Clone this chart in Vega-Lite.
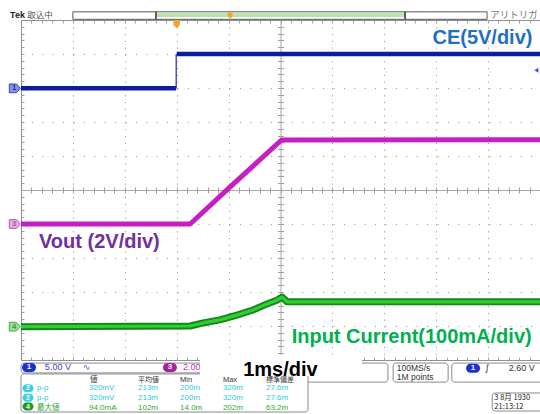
{
"$schema":"https://vega.github.io/schema/vega-lite/v6.json",
"width":519,"height":340,"autosize":"none",
"padding":{"left":21,"top":20,"right":0,"bottom":54},
"background":"white",
"data":{"values":[{}]},
"datasets":{"wave":[
{"ch":"CE","seg":"lo","t":0,"v":2.99},{"ch":"CE","seg":"lo","t":2.99,"v":2.99},
{"ch":"CE","seg":"edge","t":2.99,"v":2.99},{"ch":"CE","seg":"edge","t":2.99,"v":4.0},
{"ch":"CE","seg":"hi","t":3.0,"v":4.0},{"ch":"CE","seg":"hi","t":10,"v":4.0},
{"ch":"Vout","seg":"a","t":0,"v":-1.0},{"ch":"Vout","seg":"a","t":3.26,"v":-1.0},{"ch":"Vout","seg":"a","t":4.03,"v":0.09},{"ch":"Vout","seg":"a","t":5.02,"v":1.47},{"ch":"Vout","seg":"a","t":10,"v":1.48},
{"ch":"Iin","seg":"a","t":0,"v":-4.02},{"ch":"Iin","seg":"a","t":3.26,"v":-4.0},{"ch":"Iin","seg":"a","t":3.51,"v":-3.91},{"ch":"Iin","seg":"a","t":3.83,"v":-3.82},{"ch":"Iin","seg":"a","t":4.16,"v":-3.68},{"ch":"Iin","seg":"a","t":4.47,"v":-3.53},{"ch":"Iin","seg":"a","t":4.74,"v":-3.35},{"ch":"Iin","seg":"a","t":4.93,"v":-3.24},{"ch":"Iin","seg":"a","t":5.03,"v":-3.15},{"ch":"Iin","seg":"a","t":5.13,"v":-3.29},{"ch":"Iin","seg":"a","t":10,"v":-3.29}
]},
"config":{"view":{"stroke":"#8f8f8f","strokeWidth":1},
 "axis":{"grid":false,"ticks":false,"labels":false,"domain":false,"titleColor":"transparent","zindex":0},
 "text":{"font":"Liberation Sans"}},
"resolve":{"axis":{"x":"independent","y":"independent"}},
"layer":[
{"data":{"name":"wave"},"transform":[{"filter":"datum.ch==='CE' && datum.seg!=='edge'"}],
 "mark":{"type":"line","color":"#0b1d9e","strokeWidth":4.5,"strokeCap":"butt"},
 "encoding":{
  "x":{"field":"t","type":"quantitative","scale":{"domain":[0,10],"nice":false,"zero":false},"axis":{"orient":"bottom","values":[1,2,3,4,6,7,8,9],"grid":true,"gridColor":"#8c8c8c","gridDash":[1,5.8],"gridWidth":1,"title":null}},
  "y":{"field":"v","type":"quantitative","scale":{"domain":[-5,5],"nice":false,"zero":false},"axis":{"orient":"left","values":[-4,-3,-2,-1,1,2,3,4],"grid":true,"gridColor":"#8c8c8c","gridDash":[1,9.4],"gridWidth":1,"title":null}},
  "detail":{"field":"seg"}}},
{"data":{"name":"wave"},"transform":[{"filter":"datum.seg==='edge'"}],
 "mark":{"type":"line","color":"#1a2ab0","strokeWidth":1.2},
 "encoding":{
  "x":{"field":"t","type":"quantitative","axis":{"orient":"top","offset":-170,"values":[0.2,0.4,0.6,0.8,1,1.2,1.4,1.6,1.8,2,2.2,2.4,2.6,2.8,3,3.2,3.4,3.6,3.8,4,4.2,4.4,4.6,4.8,5,5.2,5.4,5.6,5.8,6,6.2,6.4,6.6,6.8,7,7.2,7.4,7.6,7.8,8,8.2,8.4,8.6,8.8,9,9.2,9.4,9.6,9.8],"ticks":true,"tickSize":3,"tickColor":"#a0a0a0","domain":true,"domainColor":"#a8a8a8","title":null}},
  "y":{"field":"v","type":"quantitative","axis":{"orient":"left","offset":-259.5,"values":[-4.8,-4.6,-4.4,-4.2,-4,-3.8,-3.6,-3.4,-3.2,-3,-2.8,-2.6,-2.4,-2.2,-2,-1.8,-1.6,-1.4,-1.2,-1,-0.8,-0.6,-0.4,-0.2,0,0.2,0.4,0.6,0.8,1,1.2,1.4,1.6,1.8,2,2.2,2.4,2.6,2.8,3,3.2,3.4,3.6,3.8,4,4.2,4.4,4.6,4.8],"ticks":true,"tickSize":3,"tickColor":"#a0a0a0","domain":true,"domainColor":"#a8a8a8","title":null}}}},
{"data":{"name":"wave"},"transform":[{"filter":"datum.ch==='Vout'"}],
 "mark":{"type":"line","color":"#c41ec4","strokeWidth":5,"strokeJoin":"round"},
 "encoding":{
  "x":{"field":"t","type":"quantitative","axis":{"orient":"bottom","offset":-170,"values":[0.2,0.4,0.6,0.8,1,1.2,1.4,1.6,1.8,2,2.2,2.4,2.6,2.8,3,3.2,3.4,3.6,3.8,4,4.2,4.4,4.6,4.8,5,5.2,5.4,5.6,5.8,6,6.2,6.4,6.6,6.8,7,7.2,7.4,7.6,7.8,8,8.2,8.4,8.6,8.8,9,9.2,9.4,9.6,9.8],"ticks":true,"tickSize":3,"tickColor":"#a0a0a0","title":null}},
  "y":{"field":"v","type":"quantitative","axis":{"orient":"right","offset":-259.5,"values":[-4.8,-4.6,-4.4,-4.2,-4,-3.8,-3.6,-3.4,-3.2,-3,-2.8,-2.6,-2.4,-2.2,-2,-1.8,-1.6,-1.4,-1.2,-1,-0.8,-0.6,-0.4,-0.2,0,0.2,0.4,0.6,0.8,1,1.2,1.4,1.6,1.8,2,2.2,2.4,2.6,2.8,3,3.2,3.4,3.6,3.8,4,4.2,4.4,4.6,4.8],"ticks":true,"tickSize":3,"tickColor":"#a0a0a0","title":null}}}},
{"data":{"name":"wave"},"transform":[{"filter":"datum.ch==='Iin'"}],
 "mark":{"type":"line","color":"#13861c","strokeWidth":7,"strokeJoin":"round"},
 "encoding":{
  "x":{"field":"t","type":"quantitative","axis":{"orient":"bottom","offset":-340,"values":[0.2,0.4,0.6,0.8,1,1.2,1.4,1.6,1.8,2,2.2,2.4,2.6,2.8,3,3.2,3.4,3.6,3.8,4,4.2,4.4,4.6,4.8,5,5.2,5.4,5.6,5.8,6,6.2,6.4,6.6,6.8,7,7.2,7.4,7.6,7.8,8,8.2,8.4,8.6,8.8,9,9.2,9.4,9.6,9.8],"ticks":true,"tickSize":3,"tickColor":"#a0a0a0","title":null}},
  "y":{"field":"v","type":"quantitative","axis":{"orient":"right","offset":-519,"values":[-4.8,-4.6,-4.4,-4.2,-4,-3.8,-3.6,-3.4,-3.2,-3,-2.8,-2.6,-2.4,-2.2,-2,-1.8,-1.6,-1.4,-1.2,-1,-0.8,-0.6,-0.4,-0.2,0,0.2,0.4,0.6,0.8,1,1.2,1.4,1.6,1.8,2,2.2,2.4,2.6,2.8,3,3.2,3.4,3.6,3.8,4,4.2,4.4,4.6,4.8],"ticks":true,"tickSize":3,"tickColor":"#a0a0a0","title":null}}}},
{"data":{"name":"wave"},"transform":[{"filter":"datum.ch==='Iin'"}],
 "mark":{"type":"line","color":"#2fcf2f","strokeWidth":3.2,"strokeJoin":"round"},
 "encoding":{
  "x":{"field":"t","type":"quantitative","axis":{"orient":"top","offset":-340,"values":[0.2,0.4,0.6,0.8,1,1.2,1.4,1.6,1.8,2,2.2,2.4,2.6,2.8,3,3.2,3.4,3.6,3.8,4,4.2,4.4,4.6,4.8,5,5.2,5.4,5.6,5.8,6,6.2,6.4,6.6,6.8,7,7.2,7.4,7.6,7.8,8,8.2,8.4,8.6,8.8,9,9.2,9.4,9.6,9.8],"ticks":true,"tickSize":3,"tickColor":"#a0a0a0","title":null}},
  "y":{"field":"v","type":"quantitative","axis":null}}},

{"mark":{"type":"point","shape":"M-1,-0.8L0.3,-0.8L1,0L0.3,0.8L-1,0.8Z","size":121,"filled":true,"fill":"#8393e3","stroke":"#3447c0","strokeWidth":1,"opacity":1},"encoding":{"x":{"datum":-0.12},"y":{"datum":2.99}}},
{"mark":{"type":"text","text":"1","fontSize":7,"fontWeight":"bold","color":"#1d2a80","baseline":"middle","align":"center"},"encoding":{"x":{"datum":-0.13},"y":{"datum":2.99}}},
{"mark":{"type":"point","shape":"M-1,-0.8L0.3,-0.8L1,0L0.3,0.8L-1,0.8Z","size":121,"filled":true,"fill":"#e9a8e9","stroke":"#b860b8","strokeWidth":1,"opacity":1},"encoding":{"x":{"datum":-0.12},"y":{"datum":-1.0}}},
{"mark":{"type":"text","text":"3","fontSize":7,"fontWeight":"bold","color":"#777","baseline":"middle","align":"center"},"encoding":{"x":{"datum":-0.13},"y":{"datum":-1.0}}},
{"mark":{"type":"point","shape":"M-1,-0.8L0.3,-0.8L1,0L0.3,0.8L-1,0.8Z","size":121,"filled":true,"fill":"#93e093","stroke":"#4cb04c","strokeWidth":1,"opacity":1},"encoding":{"x":{"datum":-0.12},"y":{"datum":-4.02}}},
{"mark":{"type":"text","text":"4","fontSize":7,"fontWeight":"bold","color":"#4a8a4a","baseline":"middle","align":"center"},"encoding":{"x":{"datum":-0.13},"y":{"datum":-4.02}}},
{"mark":{"type":"point","shape":"triangle-left","size":22,"filled":true,"fill":"#2a52e0","opacity":1},"encoding":{"x":{"datum":9.93},"y":{"datum":3.52}}},
{"mark":{"type":"point","shape":"M-0.8,-1L0.8,-1L0.8,0.2L0,1L-0.8,0.2Z","size":70,"filled":true,"fill":"#f3a531","opacity":1},"encoding":{"x":{"datum":3.0},"y":{"datum":4.88}}},

{"mark":{"type":"text","text":"Tek","fontSize":9,"fontWeight":"bold","color":"#222","align":"left","baseline":"middle"},"encoding":{"x":{"datum":-0.21},"y":{"datum":5.15}}},
{"mark":{"type":"text","text":"取込中","font":"Noto Sans CJK JP","fontSize":8.5,"color":"#555","align":"left","baseline":"middle"},"encoding":{"x":{"datum":0.12},"y":{"datum":5.15}}},
{"mark":{"type":"rect","fill":"white","stroke":"#555","strokeWidth":1},"encoding":{"x":{"datum":1.0},"x2":{"datum":8.98},"y":{"datum":5.02},"y2":{"datum":5.24}}},
{"mark":{"type":"rect","fill":"#b6e3a8"},"encoding":{"x":{"datum":2.6},"x2":{"datum":7.4},"y":{"datum":5.09},"y2":{"datum":5.2}}},
{"mark":{"type":"rule","stroke":"#333","strokeWidth":1.5},"encoding":{"x":{"datum":2.6},"y":{"datum":5.02},"y2":{"datum":5.24}}},
{"mark":{"type":"rule","stroke":"#333","strokeWidth":1.5},"encoding":{"x":{"datum":7.4},"y":{"datum":5.02},"y2":{"datum":5.24}}},
{"mark":{"type":"point","shape":"M-0.8,-1L0.8,-1L0.8,0.2L0,1L-0.8,0.2Z","size":40,"filled":true,"fill":"#f3a531","opacity":1},"encoding":{"x":{"datum":4.03},"y":{"datum":5.13}}},
{"mark":{"type":"text","text":"アリトリガ","font":"Noto Sans CJK JP","fontSize":9.5,"color":"#777","align":"left","baseline":"middle"},"encoding":{"x":{"datum":9.04},"y":{"datum":5.15}}},

{"mark":{"type":"rect","fill":"white","stroke":"#8a8a8a","strokeWidth":1,"cornerRadius":3},"encoding":{"x":{"datum":0},"x2":{"datum":4.41},"y":{"datum":-5.09},"y2":{"datum":-5.38}}},
{"mark":{"type":"rect","fill":"white","stroke":"#8a8a8a","strokeWidth":1,"cornerRadius":3},"encoding":{"x":{"datum":4.41},"x2":{"datum":7.07},"y":{"datum":-5.09},"y2":{"datum":-5.65}}},
{"mark":{"type":"rect","fill":"white","stroke":"#8a8a8a","strokeWidth":1,"cornerRadius":3},"encoding":{"x":{"datum":7.17},"x2":{"datum":8.23},"y":{"datum":-5.09},"y2":{"datum":-5.65}}},
{"mark":{"type":"rect","fill":"white","stroke":"#8a8a8a","strokeWidth":1,"cornerRadius":3},"encoding":{"x":{"datum":8.3},"x2":{"datum":10.3},"y":{"datum":-5.09},"y2":{"datum":-5.65}}},
{"mark":{"type":"rect","fill":"white","stroke":"#8a8a8a","strokeWidth":1,"cornerRadius":3},"encoding":{"x":{"datum":0},"x2":{"datum":5.53},"y":{"datum":-5.41},"y2":{"datum":-6.53}}},
{"mark":{"type":"rect","fill":"white","stroke":"#8a8a8a","strokeWidth":1,"cornerRadius":3},"encoding":{"x":{"datum":9.08},"x2":{"datum":10.3},"y":{"datum":-5.97},"y2":{"datum":-6.5}}},

{"mark":{"type":"point","shape":"M-0.36,-0.64L0.36,-0.64A0.64,0.64 0 0 1 0.36,0.64L-0.36,0.64A0.64,0.64 0 0 1 -0.36,-0.64Z","size":196,"filled":true,"fill":"#1b2fd6","opacity":1},"encoding":{"x":{"datum":0.154},"y":{"datum":-5.22}}},
{"mark":{"type":"text","text":"1","fontSize":8,"fontWeight":"bold","color":"white","align":"center","baseline":"middle"},"encoding":{"x":{"datum":0.154},"y":{"datum":-5.22}}},
{"mark":{"type":"text","text":"5.00 V","fontSize":9,"color":"#3a3ad8","align":"left","baseline":"middle"},"encoding":{"x":{"datum":0.46},"y":{"datum":-5.22}}},
{"mark":{"type":"text","text":"∿","font":"DejaVu Sans","fontSize":9,"color":"#5a5ae0","align":"left","baseline":"middle"},"encoding":{"x":{"datum":1.19},"y":{"datum":-5.22}}},
{"mark":{"type":"point","shape":"M-0.36,-0.64L0.36,-0.64A0.64,0.64 0 0 1 0.36,0.64L-0.36,0.64A0.64,0.64 0 0 1 -0.36,-0.64Z","size":196,"filled":true,"fill":"#a8209f","opacity":1},"encoding":{"x":{"datum":2.87},"y":{"datum":-5.22}}},
{"mark":{"type":"text","text":"3","fontSize":8,"fontWeight":"bold","color":"white","align":"center","baseline":"middle"},"encoding":{"x":{"datum":2.87},"y":{"datum":-5.22}}},
{"mark":{"type":"text","text":"2.00 V","fontSize":9,"color":"#c030c0","align":"left","baseline":"middle"},"encoding":{"x":{"datum":3.12},"y":{"datum":-5.22}}},
{"mark":{"type":"text","text":["100MS/s","1M points"],"lineHeight":9,"fontSize":8.5,"color":"#333","align":"left","baseline":"middle"},"encoding":{"x":{"datum":7.24},"y":{"datum":-5.24}}},
{"mark":{"type":"point","shape":"M-0.36,-0.64L0.36,-0.64A0.64,0.64 0 0 1 0.36,0.64L-0.36,0.64A0.64,0.64 0 0 1 -0.36,-0.64Z","size":196,"filled":true,"fill":"#1b2fd6","opacity":1},"encoding":{"x":{"datum":8.71},"y":{"datum":-5.24}}},
{"mark":{"type":"text","text":"1","fontSize":8,"fontWeight":"bold","color":"white","align":"center","baseline":"middle"},"encoding":{"x":{"datum":8.71},"y":{"datum":-5.24}}},
{"mark":{"type":"text","text":"∫","font":"DejaVu Sans","fontSize":9,"color":"#222","align":"center","baseline":"middle"},"encoding":{"x":{"datum":8.98},"y":{"datum":-5.24}}},
{"mark":{"type":"text","text":"2.60 V","fontSize":9,"color":"#333","align":"right","baseline":"middle"},"encoding":{"x":{"datum":9.9},"y":{"datum":-5.24}}},
{"mark":{"type":"text","text":"3 8月  1930","font":"Noto Sans CJK JP","fontSize":7.5,"color":"#222","align":"left","baseline":"middle"},"encoding":{"x":{"datum":9.12},"y":{"datum":-6.11}}},
{"mark":{"type":"text","text":"21:13:12","font":"Noto Sans CJK JP","fontSize":7.5,"color":"#222","align":"left","baseline":"middle"},"encoding":{"x":{"datum":9.12},"y":{"datum":-6.38}}},

{"mark":{"type":"text","text":"値","font":"Noto Sans CJK JP","fontSize":7.5,"color":"#333","align":"left","baseline":"middle"},"encoding":{"x":{"datum":1.33},"y":{"datum":-5.58}}},
{"mark":{"type":"text","text":"平均値","font":"Noto Sans CJK JP","fontSize":7,"color":"#333","align":"left","baseline":"middle"},"encoding":{"x":{"datum":2.254},"y":{"datum":-5.58}}},
{"mark":{"type":"text","text":"Min","fontSize":7.5,"color":"#333","align":"left","baseline":"middle"},"encoding":{"x":{"datum":3.064},"y":{"datum":-5.58}}},
{"mark":{"type":"text","text":"Max","fontSize":7.5,"color":"#333","align":"left","baseline":"middle"},"encoding":{"x":{"datum":3.89},"y":{"datum":-5.58}}},
{"mark":{"type":"text","text":"標準偏差","font":"Noto Sans CJK JP","fontSize":7,"color":"#333","align":"left","baseline":"middle"},"encoding":{"x":{"datum":4.72},"y":{"datum":-5.58}}},

{"mark":{"type":"point","shape":"M-0.27,-0.73L0.27,-0.73A0.73,0.73 0 0 1 0.27,0.73L-0.27,0.73A0.73,0.73 0 0 1 -0.27,-0.73Z","size":121,"filled":true,"fill":"#38cfe2","opacity":1},"encoding":{"x":{"datum":0.135},"y":{"datum":-5.83}}},
{"mark":{"type":"point","shape":"M-0.27,-0.73L0.27,-0.73A0.73,0.73 0 0 1 0.27,0.73L-0.27,0.73A0.73,0.73 0 0 1 -0.27,-0.73Z","size":121,"filled":true,"fill":"#38cfe2","opacity":1},"encoding":{"x":{"datum":0.135},"y":{"datum":-6.11}}},
{"mark":{"type":"point","shape":"M-0.27,-0.73L0.27,-0.73A0.73,0.73 0 0 1 0.27,0.73L-0.27,0.73A0.73,0.73 0 0 1 -0.27,-0.73Z","size":121,"filled":true,"fill":"#1d9a1d","opacity":1},"encoding":{"x":{"datum":0.135},"y":{"datum":-6.37}}},
{"mark":{"type":"text","text":["2","2"],"lineHeight":9.4,"fontSize":7,"fontWeight":"bold","color":"white","align":"center","baseline":"middle"},"encoding":{"x":{"datum":0.135},"y":{"datum":-5.83}}},
{"mark":{"type":"text","text":"4","fontSize":7,"fontWeight":"bold","color":"white","align":"center","baseline":"middle"},"encoding":{"x":{"datum":0.135},"y":{"datum":-6.37}}},
{"mark":{"type":"text","text":["p-p","p-p"],"lineHeight":9.4,"fontSize":8,"color":"#2cc8e0","align":"left","baseline":"middle"},"encoding":{"x":{"datum":0.308},"y":{"datum":-5.83}}},
{"mark":{"type":"text","text":"最大値","font":"Noto Sans CJK JP","fontSize":7.5,"color":"#2ea82e","align":"left","baseline":"middle"},"encoding":{"x":{"datum":0.308},"y":{"datum":-6.4}}},
{"mark":{"type":"text","text":["320mV","320mV"],"lineHeight":9.4,"fontSize":8,"color":"#2cc8e0","align":"left","baseline":"middle"},"encoding":{"x":{"datum":1.31},"y":{"datum":-5.83}}},
{"mark":{"type":"text","text":["213m","213m"],"lineHeight":9.4,"fontSize":8,"color":"#2cc8e0","align":"left","baseline":"middle"},"encoding":{"x":{"datum":2.254},"y":{"datum":-5.83}}},
{"mark":{"type":"text","text":["200m","200m"],"lineHeight":9.4,"fontSize":8,"color":"#2cc8e0","align":"left","baseline":"middle"},"encoding":{"x":{"datum":3.064},"y":{"datum":-5.83}}},
{"mark":{"type":"text","text":["320m","320m"],"lineHeight":9.4,"fontSize":8,"color":"#2cc8e0","align":"left","baseline":"middle"},"encoding":{"x":{"datum":3.89},"y":{"datum":-5.83}}},
{"mark":{"type":"text","text":["27.6m","27.6m"],"lineHeight":9.4,"fontSize":8,"color":"#2cc8e0","align":"left","baseline":"middle"},"encoding":{"x":{"datum":4.72},"y":{"datum":-5.83}}},
{"mark":{"type":"text","text":"94.0mA","fontSize":8,"color":"#2ea82e","align":"left","baseline":"middle"},"encoding":{"x":{"datum":1.31},"y":{"datum":-6.4}}},
{"mark":{"type":"text","text":"102m","fontSize":8,"color":"#2ea82e","align":"left","baseline":"middle"},"encoding":{"x":{"datum":2.254},"y":{"datum":-6.4}}},
{"mark":{"type":"text","text":"14.0m","fontSize":8,"color":"#2ea82e","align":"left","baseline":"middle"},"encoding":{"x":{"datum":3.064},"y":{"datum":-6.4}}},
{"mark":{"type":"text","text":"202m","fontSize":8,"color":"#2ea82e","align":"left","baseline":"middle"},"encoding":{"x":{"datum":3.89},"y":{"datum":-6.4}}},
{"mark":{"type":"text","text":"63.2m","fontSize":8,"color":"#2ea82e","align":"left","baseline":"middle"},"encoding":{"x":{"datum":4.72},"y":{"datum":-6.4}}},

{"mark":{"type":"rect","fill":"white"},"encoding":{"x":{"datum":3.45},"x2":{"datum":6.57},"y":{"datum":-4.85},"y2":{"datum":-5.47}}},
{"mark":{"type":"text","text":"1ms/div","fontSize":20,"fontWeight":"bold","color":"#000","align":"left","baseline":"alphabetic"},"encoding":{"x":{"datum":4.28},"y":{"datum":-5.46}}},

{"mark":{"type":"text","text":"CE(5V/div)","fontSize":20,"fontWeight":"bold","color":"#1f70c1","align":"right","baseline":"alphabetic"},"encoding":{"x":{"datum":9.855},"y":{"datum":4.28}}},
{"mark":{"type":"text","text":"Vout (2V/div)","fontSize":20,"fontWeight":"bold","color":"#7030a0","align":"left","baseline":"alphabetic"},"encoding":{"x":{"datum":0.347},"y":{"datum":-1.72}}},
{"mark":{"type":"text","text":"Input Current(100mA/div)","fontSize":20,"fontWeight":"bold","color":"#00b050","align":"left","baseline":"alphabetic"},"encoding":{"x":{"datum":5.215},"y":{"datum":-4.49}}}
]
}
